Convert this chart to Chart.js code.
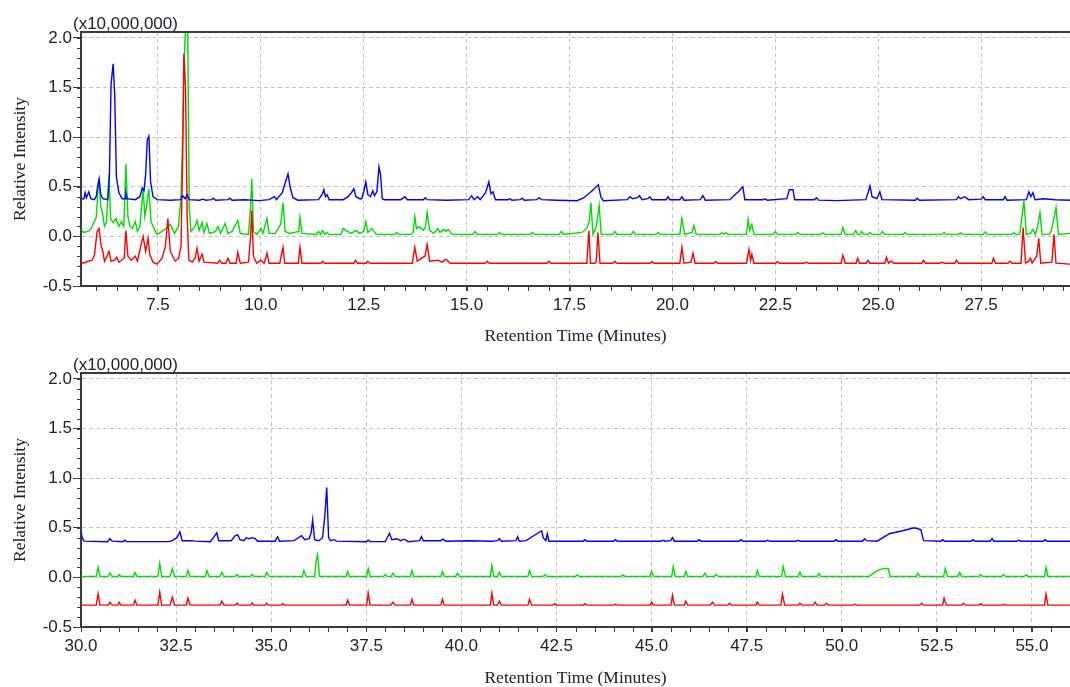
<!DOCTYPE html>
<html>
<head>
<meta charset="utf-8">
<title>Chromatogram</title>
<script src="https://cdn.jsdelivr.net/npm/chart.js@4.4.1/dist/chart.umd.min.js"></script>
<style>
  html, body { margin: 0; padding: 0; background: #fff; }
  #wrap { position: relative; width: 1070px; height: 687px; overflow: hidden; }
  canvas { position: absolute; left: 0; }
  #topChart { top: 0; }
  #bottomChart { top: 345px; }
</style>
</head>
<body>
<div id="wrap">
  <canvas id="topChart" width="1070" height="345"></canvas>
  <canvas id="bottomChart" width="1070" height="342"></canvas>
</div>
<script>
// axis ranges and tick labels
const topRange = [5.63, 29.66];
const bottomRange = [30.0, 56.0];
const intensityRange = [-0.5, 2.06];
const topTimeTicks = [7.5, 10.0, 12.5, 15.0, 17.5, 20.0, 22.5, 25.0, 27.5];
const bottomTimeTicks = [30.0, 32.5, 35.0, 37.5, 40.0, 42.5, 45.0, 47.5, 50.0, 52.5, 55.0];
const intensityTicks = [-0.5, 0.0, 0.5, 1.0, 1.5, 2.0];
const scaleNote = '(x10,000,000)';

// traces as [minutes, intensity] pairs
const blueTop = [
  [5.63,0.38],[5.70,0.38],[5.73,0.44],[5.76,0.39],[5.82,0.45],[5.87,0.38],[5.95,0.37],[6.00,0.40],[6.04,0.52],[6.07,0.58],
  [6.11,0.42],[6.16,0.38],[6.28,0.37],[6.32,0.60],[6.36,1.53],[6.41,1.74],[6.45,1.42],[6.49,0.60],[6.55,0.44],[6.63,0.38],
  [6.70,0.38],[6.72,0.44],[6.75,0.38],[6.95,0.37],[7.06,0.40],[7.12,0.49],[7.16,0.46],[7.20,0.62],[7.24,0.97],[7.28,1.01],
  [7.32,0.55],[7.38,0.40],[7.48,0.37],[7.80,0.365],[8.05,0.37],[8.10,0.41],[8.16,0.38],[8.21,0.42],[8.26,0.37],[8.50,0.365],
  [8.60,0.375],[8.66,0.365],[8.80,0.37],[8.85,0.385],[8.90,0.365],[9.20,0.37],[9.25,0.385],[9.30,0.365],[9.60,0.37],[9.95,0.36],
  [10.20,0.37],[10.33,0.40],[10.38,0.37],[10.52,0.44],[10.60,0.55],[10.66,0.63],[10.71,0.50],[10.78,0.39],[10.90,0.365],[11.40,0.37],
  [11.50,0.43],[11.53,0.47],[11.57,0.40],[11.61,0.42],[11.66,0.37],[12.00,0.37],[12.12,0.40],[12.20,0.44],[12.26,0.48],[12.31,0.40],
  [12.40,0.38],[12.45,0.38],[12.50,0.45],[12.55,0.55],[12.60,0.42],[12.66,0.40],[12.72,0.46],[12.76,0.41],[12.82,0.45],[12.87,0.70],
  [12.91,0.62],[12.95,0.38],[13.00,0.37],[13.40,0.37],[13.50,0.40],[13.56,0.37],[13.95,0.37],[13.99,0.39],[14.04,0.37],[14.50,0.365],
  [15.05,0.37],[15.12,0.41],[15.18,0.37],[15.27,0.40],[15.33,0.37],[15.46,0.44],[15.54,0.55],[15.59,0.43],[15.64,0.45],[15.70,0.37],
  [16.00,0.37],[16.05,0.38],[16.10,0.365],[16.30,0.37],[16.35,0.385],[16.40,0.365],[16.70,0.37],[16.76,0.39],[16.82,0.37],[17.20,0.365],
  [17.68,0.36],[17.85,0.39],[18.05,0.46],[18.20,0.52],[18.26,0.40],[18.32,0.36],[18.90,0.37],[18.97,0.40],[19.03,0.38],[19.15,0.39],
  [19.20,0.41],[19.26,0.37],[19.40,0.38],[19.45,0.40],[19.50,0.37],[19.85,0.37],[19.89,0.40],[19.94,0.37],[20.18,0.37],[20.23,0.40],
  [20.28,0.365],[20.68,0.37],[20.74,0.41],[20.80,0.365],[21.40,0.37],[21.47,0.40],[21.52,0.42],[21.60,0.45],[21.71,0.50],[21.76,0.37],
  [22.20,0.37],[22.25,0.38],[22.30,0.365],[22.78,0.38],[22.84,0.47],[22.93,0.47],[22.97,0.37],[23.45,0.37],[23.50,0.39],[23.55,0.365],
  [24.00,0.36],[24.70,0.37],[24.76,0.45],[24.80,0.51],[24.85,0.40],[24.97,0.38],[25.04,0.45],[25.09,0.37],[25.90,0.365],[25.95,0.385],
  [26.00,0.365],[26.90,0.37],[26.95,0.40],[27.00,0.38],[27.10,0.40],[27.20,0.37],[27.50,0.375],[27.55,0.40],[27.60,0.37],[28.04,0.37],
  [28.08,0.40],[28.13,0.365],[28.60,0.37],[28.66,0.45],[28.71,0.40],[28.76,0.44],[28.81,0.37],[29.00,0.38],[29.30,0.37],[29.66,0.365]
];
const greenTop = [
  [5.63,0.07],[5.70,0.04],[5.80,0.05],[5.88,0.08],[5.95,0.15],[6.00,0.19],[6.04,0.45],[6.07,0.58],[6.11,0.30],[6.15,0.24],
  [6.20,0.10],[6.25,0.15],[6.31,0.63],[6.35,0.18],[6.41,0.14],[6.48,0.18],[6.55,0.10],[6.61,0.15],[6.67,0.10],[6.72,0.73],
  [6.77,0.20],[6.82,0.10],[6.88,0.08],[6.95,0.15],[7.00,0.05],[7.06,0.10],[7.14,0.48],[7.18,0.20],[7.22,0.30],[7.28,0.48],
  [7.33,0.15],[7.38,0.10],[7.48,0.02],[7.60,0.05],[7.70,0.08],[7.80,0.12],[7.90,0.03],[8.00,0.10],[8.06,0.40],[8.10,1.00],
  [8.14,1.80],[8.18,2.20],[8.22,2.20],[8.26,0.30],[8.30,0.05],[8.40,0.10],[8.45,0.16],[8.50,0.06],[8.57,0.14],[8.62,0.04],
  [8.69,0.13],[8.75,0.03],[8.90,0.05],[8.96,0.10],[9.02,0.03],[9.13,0.13],[9.20,0.03],[9.30,0.05],[9.44,0.16],[9.50,0.03],
  [9.70,0.02],[9.75,0.30],[9.78,0.58],[9.82,0.05],[9.90,0.02],[10.00,0.08],[10.05,0.03],[10.15,0.18],[10.20,0.03],[10.35,0.03],
  [10.48,0.12],[10.54,0.34],[10.59,0.05],[10.70,0.03],[10.92,0.05],[10.95,0.19],[11.00,0.03],[11.35,0.02],[11.40,0.05],[11.45,0.02],
  [11.50,0.06],[11.55,0.02],[11.60,0.04],[11.65,0.02],[11.95,0.02],[12.00,0.08],[12.10,0.05],[12.20,0.03],[12.30,0.06],[12.40,0.03],
  [12.50,0.05],[12.55,0.15],[12.60,0.04],[12.70,0.08],[12.80,0.02],[13.25,0.02],[13.30,0.04],[13.35,0.02],[13.65,0.02],[13.70,0.04],
  [13.74,0.20],[13.78,0.08],[13.85,0.10],[13.95,0.06],[14.00,0.10],[14.04,0.24],[14.10,0.06],[14.20,0.03],[14.30,0.08],[14.35,0.04],
  [14.45,0.07],[14.50,0.05],[14.55,0.07],[14.65,0.02],[15.15,0.02],[15.20,0.05],[15.25,0.02],[15.75,0.02],[15.80,0.04],[15.85,0.02],
  [16.55,0.02],[16.60,0.04],[16.65,0.02],[17.25,0.02],[17.30,0.05],[17.35,0.02],[17.80,0.04],[17.92,0.08],[17.98,0.15],[18.02,0.34],
  [18.07,0.02],[18.15,0.10],[18.22,0.31],[18.27,0.02],[18.55,0.02],[18.60,0.05],[18.65,0.02],[19.00,0.02],[19.05,0.05],[19.10,0.02],
  [19.60,0.02],[19.65,0.04],[19.70,0.02],[20.18,0.02],[20.23,0.18],[20.30,0.02],[20.48,0.04],[20.52,0.11],[20.58,0.02],[21.15,0.02],
  [21.20,0.035],[21.25,0.02],[21.30,0.04],[21.35,0.02],[21.80,0.02],[21.84,0.17],[21.88,0.06],[21.93,0.12],[21.98,0.02],[22.45,0.02],
  [22.50,0.05],[22.55,0.02],[23.00,0.02],[23.05,0.04],[23.10,0.02],[23.60,0.02],[23.65,0.035],[23.70,0.02],[24.10,0.02],[24.14,0.09],
  [24.20,0.02],[24.40,0.02],[24.45,0.06],[24.50,0.02],[24.56,0.02],[24.60,0.05],[24.65,0.02],[24.75,0.02],[24.80,0.04],[24.85,0.02],
  [25.05,0.02],[25.10,0.05],[25.15,0.02],[25.60,0.02],[25.65,0.04],[25.70,0.02],[26.55,0.02],[26.60,0.04],[26.65,0.02],[26.95,0.02],
  [27.00,0.035],[27.05,0.02],[27.55,0.02],[27.60,0.045],[27.65,0.02],[28.25,0.02],[28.30,0.035],[28.35,0.02],[28.44,0.02],[28.48,0.15],
  [28.54,0.36],[28.60,0.02],[28.70,0.03],[28.76,0.07],[28.82,0.02],[28.88,0.12],[28.93,0.24],[28.98,0.02],[29.15,0.02],[29.20,0.05],
  [29.27,0.18],[29.32,0.29],[29.38,0.02],[29.66,0.03]
];
const redTop = [
  [5.63,-0.26],[5.70,-0.27],[5.80,-0.25],[5.90,-0.24],[5.96,-0.18],[6.02,0.05],[6.07,0.08],[6.12,-0.10],[6.16,-0.15],[6.20,-0.25],
  [6.26,-0.20],[6.31,-0.15],[6.36,-0.25],[6.45,-0.24],[6.50,-0.21],[6.55,-0.26],[6.68,-0.22],[6.72,0.06],[6.77,-0.20],[6.85,-0.24],
  [6.95,-0.20],[7.00,-0.25],[7.08,-0.10],[7.14,0.00],[7.20,-0.15],[7.26,-0.02],[7.30,-0.18],[7.38,-0.26],[7.48,-0.28],[7.60,-0.22],
  [7.68,-0.10],[7.74,0.18],[7.80,-0.15],[7.86,-0.20],[7.92,-0.25],[8.00,-0.22],[8.06,-0.10],[8.10,0.80],[8.13,1.84],[8.17,1.50],
  [8.21,0.20],[8.25,-0.24],[8.33,-0.26],[8.40,-0.22],[8.45,-0.12],[8.50,-0.25],[8.57,-0.18],[8.62,-0.26],[8.95,-0.27],[9.00,-0.24],
  [9.05,-0.27],[9.15,-0.27],[9.20,-0.22],[9.25,-0.27],[9.40,-0.27],[9.44,-0.16],[9.50,-0.27],[9.70,-0.26],[9.75,0.00],[9.78,0.26],
  [9.82,-0.20],[9.90,-0.27],[10.00,-0.24],[10.08,-0.27],[10.15,-0.17],[10.20,-0.27],[10.46,-0.27],[10.50,-0.18],[10.54,-0.11],[10.58,-0.27],
  [10.91,-0.27],[10.95,-0.11],[11.00,-0.27],[11.46,-0.27],[11.50,-0.25],[11.55,-0.27],[12.26,-0.27],[12.30,-0.24],[12.35,-0.27],[12.56,-0.27],
  [12.60,-0.25],[12.65,-0.27],[13.68,-0.27],[13.74,-0.11],[13.80,-0.25],[13.90,-0.22],[13.99,-0.20],[14.04,-0.08],[14.10,-0.25],[14.30,-0.24],
  [14.40,-0.26],[14.50,-0.23],[14.60,-0.27],[15.45,-0.27],[15.50,-0.25],[15.55,-0.27],[16.95,-0.27],[17.00,-0.25],[17.05,-0.27],[17.92,-0.27],
  [17.97,0.06],[18.01,-0.27],[18.12,-0.27],[18.15,-0.25],[18.19,0.04],[18.24,-0.27],[18.55,-0.27],[18.60,-0.25],[18.65,-0.27],[19.45,-0.27],
  [19.50,-0.255],[19.55,-0.27],[20.18,-0.27],[20.23,-0.11],[20.28,-0.27],[20.45,-0.26],[20.50,-0.17],[20.55,-0.27],[21.00,-0.27],[21.05,-0.255],
  [21.10,-0.27],[21.80,-0.27],[21.86,-0.13],[21.90,-0.24],[21.93,-0.18],[21.98,-0.27],[22.50,-0.27],[22.55,-0.255],[22.60,-0.27],[23.20,-0.27],
  [23.25,-0.26],[23.30,-0.27],[24.10,-0.27],[24.14,-0.19],[24.20,-0.27],[24.46,-0.27],[24.50,-0.22],[24.55,-0.27],[24.71,-0.27],[24.75,-0.24],
  [24.80,-0.27],[25.16,-0.27],[25.20,-0.21],[25.25,-0.27],[25.32,-0.25],[25.38,-0.27],[26.06,-0.27],[26.10,-0.24],[26.15,-0.27],[26.50,-0.27],
  [26.55,-0.26],[26.60,-0.27],[26.86,-0.27],[26.90,-0.24],[26.95,-0.27],[27.76,-0.27],[27.80,-0.22],[27.85,-0.27],[28.15,-0.27],[28.20,-0.25],
  [28.25,-0.27],[28.47,-0.27],[28.52,0.09],[28.58,-0.27],[28.66,-0.25],[28.70,-0.22],[28.74,-0.27],[28.85,-0.20],[28.90,-0.02],[28.95,-0.27],
  [29.22,-0.26],[29.27,0.02],[29.32,-0.27],[29.66,-0.28]
];
const blueBottom = [
  [30.00,0.46],[30.03,0.40],[30.08,0.365],[30.70,0.36],[30.76,0.39],[30.82,0.365],[31.10,0.36],[31.15,0.375],[31.20,0.36],[32.30,0.36],
  [32.40,0.37],[32.52,0.40],[32.60,0.46],[32.66,0.37],[32.90,0.37],[33.00,0.365],[33.40,0.36],[33.50,0.41],[33.57,0.45],[33.62,0.37],
  [33.95,0.37],[34.05,0.42],[34.12,0.43],[34.18,0.38],[34.28,0.37],[34.34,0.40],[34.42,0.39],[34.50,0.40],[34.58,0.39],[34.64,0.365],
  [35.10,0.365],[35.17,0.41],[35.22,0.365],[35.60,0.37],[35.80,0.42],[35.88,0.38],[36.00,0.39],[36.05,0.45],[36.09,0.58],[36.14,0.38],
  [36.25,0.37],[36.35,0.40],[36.41,0.62],[36.46,0.905],[36.51,0.40],[36.56,0.37],[36.65,0.38],[36.72,0.365],[37.50,0.36],[37.55,0.375],
  [37.60,0.36],[38.00,0.36],[38.05,0.40],[38.11,0.445],[38.17,0.38],[38.30,0.39],[38.40,0.37],[38.50,0.385],[38.60,0.36],[38.90,0.37],
  [38.95,0.41],[39.00,0.37],[39.45,0.37],[39.50,0.385],[39.60,0.365],[40.20,0.37],[40.80,0.365],[40.95,0.37],[41.00,0.39],[41.05,0.365],
  [41.43,0.37],[41.48,0.41],[41.52,0.365],[41.70,0.37],[42.11,0.47],[42.15,0.40],[42.22,0.37],[42.26,0.44],[42.30,0.365],[43.20,0.365],
  [43.24,0.38],[43.30,0.365],[44.00,0.365],[44.05,0.38],[44.10,0.365],[45.25,0.365],[45.30,0.375],[45.35,0.365],[45.50,0.37],[45.55,0.40],
  [45.60,0.365],[46.20,0.365],[46.25,0.38],[46.30,0.365],[47.30,0.365],[47.35,0.38],[47.40,0.365],[48.00,0.365],[48.05,0.375],[48.10,0.365],
  [48.80,0.365],[48.85,0.375],[48.90,0.365],[49.80,0.365],[49.85,0.38],[49.90,0.365],[50.54,0.365],[50.60,0.39],[50.65,0.37],[50.93,0.365],
  [51.25,0.44],[51.60,0.47],[51.90,0.50],[52.00,0.49],[52.08,0.48],[52.15,0.37],[52.60,0.365],[52.65,0.38],[52.70,0.365],[53.40,0.365],
  [53.45,0.38],[53.50,0.365],[53.90,0.365],[53.95,0.39],[54.00,0.365],[54.60,0.365],[54.65,0.375],[54.70,0.365],[55.30,0.365],[55.35,0.38],
  [55.40,0.365],[56.00,0.365]
];
const greenBottom = [
  [30.00,0.01],[30.40,0.01],[30.45,0.10],[30.50,0.01],[30.72,0.01],[30.76,0.04],[30.82,0.01],[30.97,0.01],[31.00,0.03],[31.05,0.01],
  [31.38,0.01],[31.42,0.05],[31.47,0.01],[32.02,0.01],[32.07,0.14],[32.12,0.01],[32.34,0.01],[32.40,0.09],[32.46,0.01],[32.77,0.01],
  [32.81,0.07],[32.87,0.01],[33.27,0.01],[33.31,0.07],[33.37,0.01],[33.66,0.01],[33.70,0.05],[33.76,0.01],[34.05,0.01],[34.10,0.03],
  [34.15,0.01],[34.45,0.01],[34.50,0.03],[34.55,0.01],[34.84,0.01],[34.88,0.05],[34.95,0.01],[35.82,0.01],[35.86,0.07],[35.92,0.01],
  [36.14,0.01],[36.18,0.16],[36.22,0.23],[36.27,0.01],[36.97,0.01],[37.01,0.06],[37.06,0.01],[37.51,0.01],[37.55,0.09],[37.60,0.01],
  [37.95,0.01],[38.00,0.03],[38.05,0.01],[38.15,0.01],[38.20,0.04],[38.25,0.01],[38.66,0.01],[38.70,0.07],[38.75,0.01],[39.46,0.01],
  [39.50,0.06],[39.55,0.01],[39.85,0.01],[39.90,0.04],[39.95,0.01],[40.76,0.01],[40.80,0.12],[40.85,0.01],[40.95,0.01],[41.00,0.05],
  [41.05,0.01],[41.75,0.01],[41.79,0.07],[41.85,0.01],[42.15,0.01],[42.20,0.03],[42.25,0.01],[43.00,0.01],[43.05,0.025],[43.10,0.01],
  [44.20,0.01],[44.25,0.025],[44.30,0.01],[44.96,0.01],[45.00,0.06],[45.05,0.01],[45.53,0.01],[45.57,0.11],[45.62,0.01],[45.86,0.01],
  [45.90,0.06],[45.95,0.01],[46.35,0.01],[46.40,0.04],[46.45,0.01],[46.65,0.01],[46.70,0.03],[46.75,0.01],[47.74,0.01],[47.78,0.07],
  [47.83,0.01],[48.42,0.01],[48.46,0.11],[48.52,0.01],[48.85,0.01],[48.90,0.05],[48.95,0.01],[49.35,0.01],[49.40,0.04],[49.45,0.01],
  [50.72,0.01],[50.90,0.06],[51.10,0.09],[51.22,0.09],[51.27,0.01],[51.95,0.01],[52.00,0.04],[52.05,0.01],[52.68,0.01],[52.72,0.09],
  [52.78,0.01],[53.05,0.01],[53.10,0.05],[53.15,0.01],[53.60,0.01],[53.65,0.03],[53.70,0.01],[54.20,0.01],[54.25,0.03],[54.30,0.01],
  [54.80,0.01],[54.85,0.025],[54.90,0.01],[55.33,0.01],[55.37,0.10],[55.42,0.01],[56.00,0.01]
];
const redBottom = [
  [30.00,-0.28],[30.40,-0.28],[30.45,-0.165],[30.50,-0.28],[30.72,-0.28],[30.76,-0.25],[30.82,-0.28],[30.97,-0.28],[31.00,-0.25],[31.05,-0.28],
  [31.38,-0.28],[31.42,-0.23],[31.47,-0.28],[32.02,-0.28],[32.07,-0.15],[32.12,-0.28],[32.34,-0.28],[32.40,-0.20],[32.46,-0.28],[32.77,-0.28],
  [32.81,-0.21],[32.87,-0.28],[33.66,-0.28],[33.70,-0.24],[33.76,-0.28],[34.06,-0.28],[34.10,-0.26],[34.15,-0.28],[34.46,-0.28],[34.50,-0.26],
  [34.55,-0.28],[34.84,-0.28],[34.88,-0.26],[34.93,-0.28],[35.26,-0.28],[35.30,-0.265],[35.35,-0.28],[36.97,-0.28],[37.01,-0.23],[37.06,-0.28],
  [37.51,-0.28],[37.55,-0.16],[37.60,-0.28],[38.15,-0.28],[38.20,-0.25],[38.26,-0.28],[38.66,-0.28],[38.70,-0.22],[38.75,-0.28],[39.46,-0.28],
  [39.50,-0.22],[39.55,-0.28],[40.76,-0.28],[40.80,-0.16],[40.85,-0.28],[40.95,-0.28],[41.00,-0.24],[41.05,-0.28],[41.75,-0.28],[41.79,-0.22],
  [41.85,-0.28],[42.40,-0.28],[42.45,-0.265],[42.50,-0.28],[43.20,-0.28],[43.25,-0.265],[43.30,-0.28],[44.00,-0.28],[44.05,-0.27],[44.10,-0.28],
  [44.96,-0.28],[45.00,-0.25],[45.05,-0.28],[45.51,-0.28],[45.55,-0.18],[45.60,-0.28],[45.86,-0.28],[45.90,-0.24],[45.95,-0.28],[46.55,-0.28],
  [46.60,-0.25],[46.66,-0.28],[47.00,-0.28],[47.05,-0.26],[47.10,-0.28],[47.74,-0.28],[47.78,-0.25],[47.83,-0.28],[48.40,-0.28],[48.44,-0.17],
  [48.50,-0.28],[48.85,-0.28],[48.90,-0.26],[48.95,-0.28],[49.25,-0.28],[49.30,-0.25],[49.35,-0.28],[49.55,-0.28],[49.60,-0.26],[49.65,-0.28],
  [50.30,-0.28],[50.35,-0.27],[50.40,-0.28],[52.05,-0.28],[52.10,-0.26],[52.15,-0.28],[52.65,-0.28],[52.69,-0.21],[52.75,-0.28],[53.15,-0.28],
  [53.20,-0.26],[53.25,-0.28],[53.60,-0.28],[53.65,-0.265],[53.70,-0.28],[54.20,-0.28],[54.25,-0.27],[54.30,-0.28],[55.33,-0.28],[55.37,-0.17],
  [55.42,-0.28],[56.00,-0.28]
];

const INK = '#3a3a3a';
const LABEL = '#202030';
const GRID = '#c4c4c4';
const SERIF = "'Liberation Serif', 'Times New Roman', serif";

Chart.defaults.font.family = "'Liberation Sans', Arial, sans-serif";
Chart.defaults.font.size = 17;
Chart.defaults.color = LABEL;

// minor ticks, top frame line and the exponent note above the y axis
const frame = {
  id: 'frame',
  afterDraw(chart) {
    const { ctx, chartArea: a, scales: { x, y } } = chart;
    ctx.save();
    ctx.strokeStyle = INK;
    ctx.lineWidth = 1;
    ctx.beginPath();
    for (let i = Math.ceil(x.min * 2); i <= Math.floor(x.max * 2); i++) {
      const px = Math.round(x.getPixelForValue(i / 2)) + 0.5;
      ctx.moveTo(px, a.bottom);
      ctx.lineTo(px, a.bottom + 5);
    }
    for (let i = -5; i <= 20; i++) {
      const py = Math.round(y.getPixelForValue(i / 10)) + 0.5;
      ctx.moveTo(a.left - 4, py);
      ctx.lineTo(a.left, py);
    }
    ctx.stroke();
    ctx.lineWidth = 2;
    ctx.beginPath();
    ctx.moveTo(a.left - 1, a.top);
    ctx.lineTo(a.right, a.top);
    ctx.stroke();
    ctx.fillStyle = LABEL;
    ctx.font = "17px 'Liberation Sans', Arial, sans-serif";
    ctx.textBaseline = 'alphabetic';
    ctx.fillText(scaleNote, a.left - 8, a.top - 3);
    ctx.restore();
  }
};

function panel(id, range, timeTicks, padTop, axisHeight, series) {
  return new Chart(document.getElementById(id), {
    type: 'line',
    data: {
      datasets: series.map(([data, color]) => ({
        data, borderColor: color, borderWidth: 1.4, pointRadius: 0, tension: 0, fill: false
      }))
    },
    options: {
      responsive: false,
      animation: false,
      events: [],
      layout: { padding: { top: padTop, left: 0, right: 0, bottom: 0 } },
      plugins: { legend: { display: false }, tooltip: { enabled: false } },
      scales: {
        x: {
          type: 'linear',
          min: range[0],
          max: range[1],
          afterBuildTicks: s => { s.ticks = timeTicks.map(v => ({ value: v })); },
          afterFit: s => { s.height = axisHeight; },
          ticks: { callback: v => v.toFixed(1), padding: 4, maxRotation: 0, autoSkip: false },
          grid: { color: GRID, tickColor: INK, tickLength: 5 },
          border: { display: true, color: INK, width: 2, dash: [4, 3] },
          title: {
            display: true, text: 'Retention Time (Minutes)', color: LABEL, padding: 0,
            font: { family: SERIF, size: 17.5, lineHeight: 1 }
          }
        },
        y: {
          min: intensityRange[0],
          max: intensityRange[1],
          afterBuildTicks: s => { s.ticks = intensityTicks.map(v => ({ value: v })); },
          afterFit: s => { s.width = 81; },
          ticks: { callback: v => v.toFixed(1), padding: 1, autoSkip: false },
          grid: { color: GRID, tickColor: INK, tickLength: 8 },
          border: { display: true, color: INK, width: 2, dash: [4, 3] },
          title: {
            display: true, text: 'Relative Intensity', color: LABEL, padding: { top: 12, bottom: 0 },
            font: { family: SERIF, size: 17.5, lineHeight: 1 }
          }
        }
      }
    },
    plugins: [frame]
  });
}

panel('topChart', topRange, topTimeTicks, 32, 59,
  [[blueTop, '#0000ff'], [redTop, '#ff0000'], [greenTop, '#00dd00']]);
panel('bottomChart', bottomRange, bottomTimeTicks, 28, 60,
  [[blueBottom, '#0000ff'], [redBottom, '#ff0000'], [greenBottom, '#00dd00']]);
</script>
</body>
</html>
